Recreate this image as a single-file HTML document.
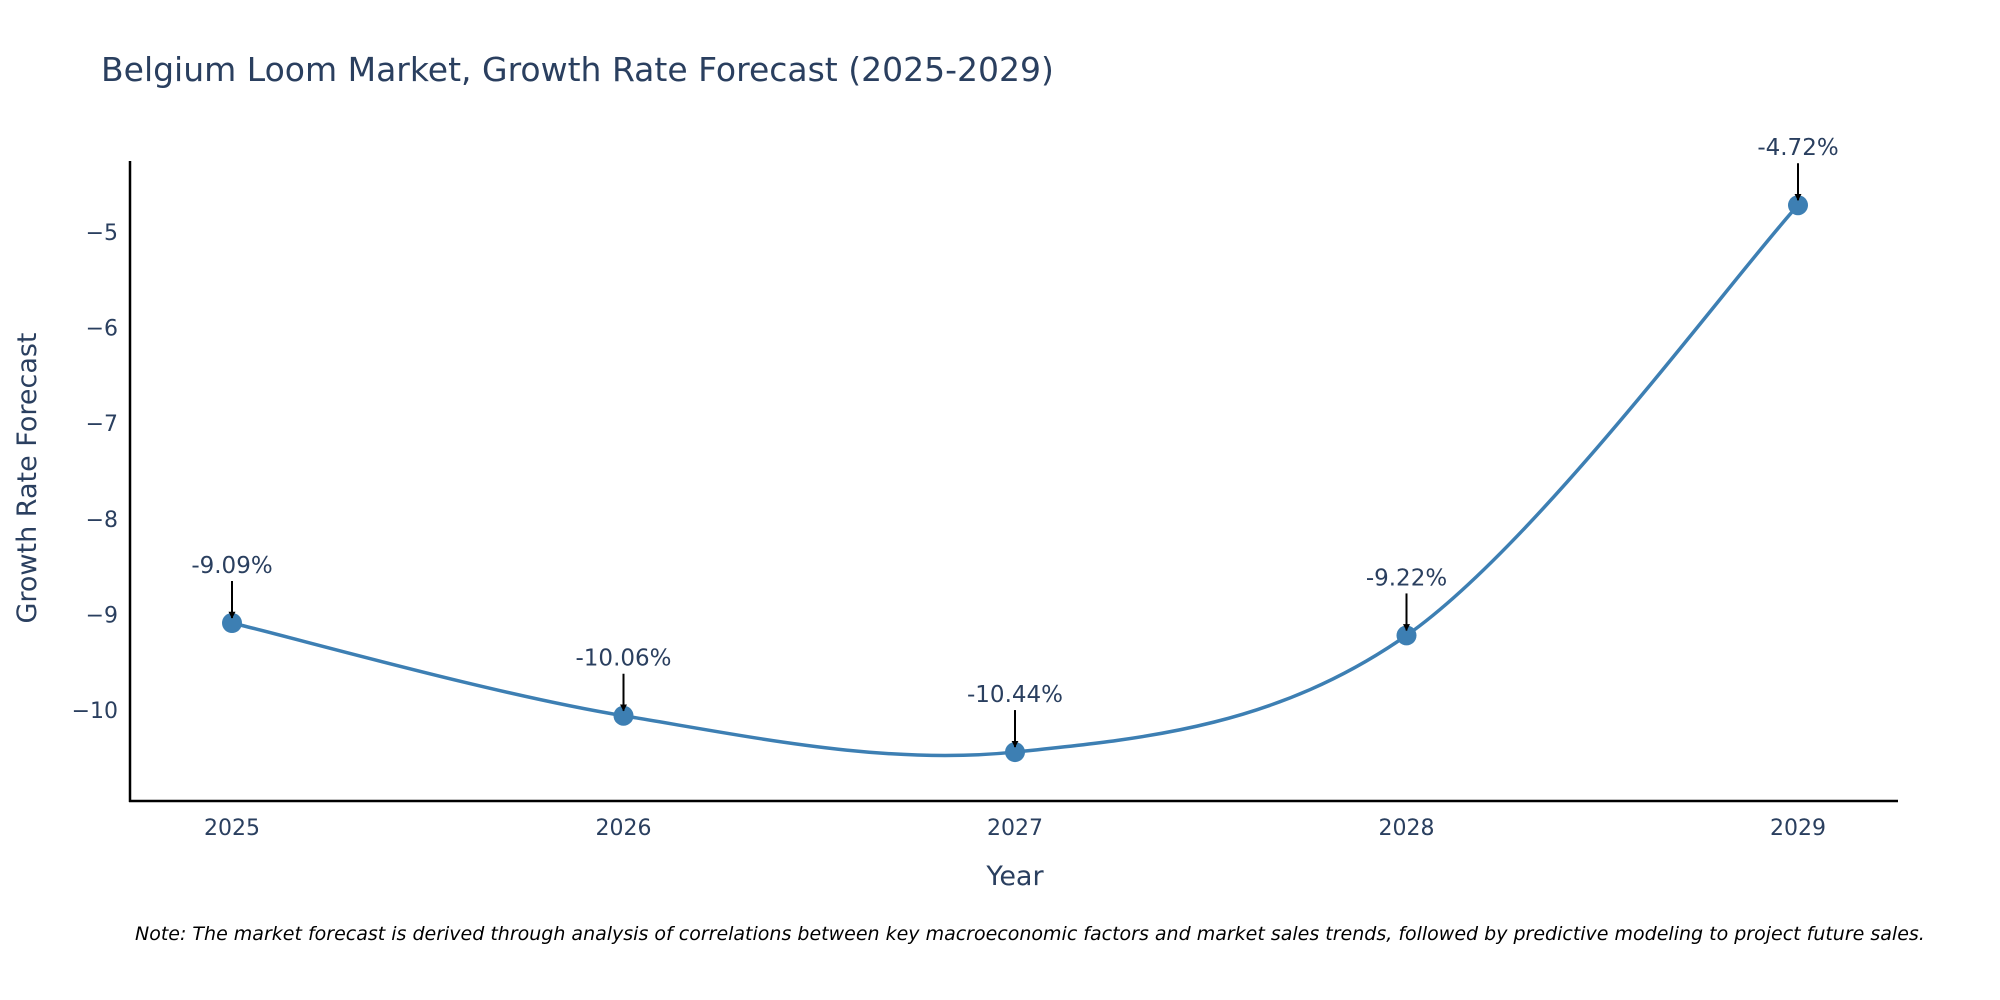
<!DOCTYPE html>
<html><head><meta charset="utf-8"><style>
body{margin:0;background:#fff;}
svg{display:block;font-family:"DejaVu Sans","Liberation Sans",sans-serif;}
</style></head><body>
<svg id="chart" width="2000" height="1000" viewBox="0 0 2000 1000">
<defs><marker id="ah" viewBox="0 0 10 10" refX="9" refY="5" markerWidth="7" markerHeight="7" markerUnits="userSpaceOnUse" orient="auto"><path d="M0,0 L10,5 L0,10 z" fill="#000"/></marker></defs>
<text x="101" y="81" font-size="33" fill="#2a3f5f">Belgium Loom Market, Growth Rate Forecast (2025-2029)</text>
<g id="plot"></g>
<text x="1015" y="885" font-size="27" fill="#2a3f5f" text-anchor="middle">Year</text>
<text transform="translate(36,478) rotate(-90)" font-size="27" fill="#2a3f5f" text-anchor="middle">Growth Rate Forecast</text>
<text x="135" y="940" font-size="19" font-style="italic" fill="#000">Note: The market forecast is derived through analysis of correlations between key macroeconomic factors and market sales trends, followed by predictive modeling to project future sales.</text>
</svg>
<script>
const years=[2025,2026,2027,2028,2029];
const values=[-9.09,-10.06,-10.44,-9.22,-4.72];
const labels=["-9.09%","-10.06%","-10.44%","-9.22%","-4.72%"];
const yTicks=[-5,-6,-7,-8,-9,-10];
const yTickLabels=["\u22125","\u22126","\u22127","\u22128","\u22129","\u221210"];
const NS="http://www.w3.org/2000/svg";
const g=document.getElementById('plot');
const X=v=>232+(v-2025)*391.5;
const Y=v=>232+(-5-v)*95.6;
function mk(t,a,p){const e=document.createElementNS(NS,t);for(const k in a)e.setAttribute(k,a[k]);(p||g).appendChild(e);return e;}
let ax=mk('line',{x1:130,y1:161,x2:130,y2:802,stroke:'#000','stroke-width':2.5});


let bx=mk('line',{x1:129,y1:801,x2:1898,y2:801,stroke:'#000','stroke-width':2.5});


yTicks.forEach((v,i)=>{const t=mk('text',{x:118,y:Y(v)+8,'font-size':22,fill:'#2a3f5f','text-anchor':'end'});t.textContent=yTickLabels[i];

});
years.forEach(v=>{const t=mk('text',{x:X(v),y:835,'font-size':22,fill:'#2a3f5f','text-anchor':'middle'});t.textContent=v;

});
const pts=years.map((y,i)=>[X(y),Y(values[i])]);
let d='M'+pts[0];
for(let i=0;i<pts.length-1;i++){const p0=pts[Math.max(0,i-1)],p1=pts[i],p2=pts[i+1],p3=pts[Math.min(pts.length-1,i+2)];const s=1/6;
d+=` C${p1[0]+(p2[0]-p0[0])*s},${p1[1]+(p2[1]-p0[1])*s} ${p2[0]-(p3[0]-p1[0])*s},${p2[1]-(p3[1]-p1[1])*s} ${p2[0]},${p2[1]}`;}
const line=mk('path',{d:d,fill:'none',stroke:'#3d7fb3','stroke-width':3.5});


pts.forEach((p,i)=>{const c=mk('circle',{cx:p[0],cy:p[1],r:10,fill:'#3d7fb3'});


const a=mk('line',{x1:p[0],y1:p[1]-42,x2:p[0],y2:p[1]-5,stroke:'#000','stroke-width':2,'marker-end':'url(#ah)'});


const t=mk('text',{x:p[0],y:p[1]-50,'font-size':23,fill:'#2a3f5f','text-anchor':'middle'});t.textContent=labels[i];

});
</script>
</body></html>
